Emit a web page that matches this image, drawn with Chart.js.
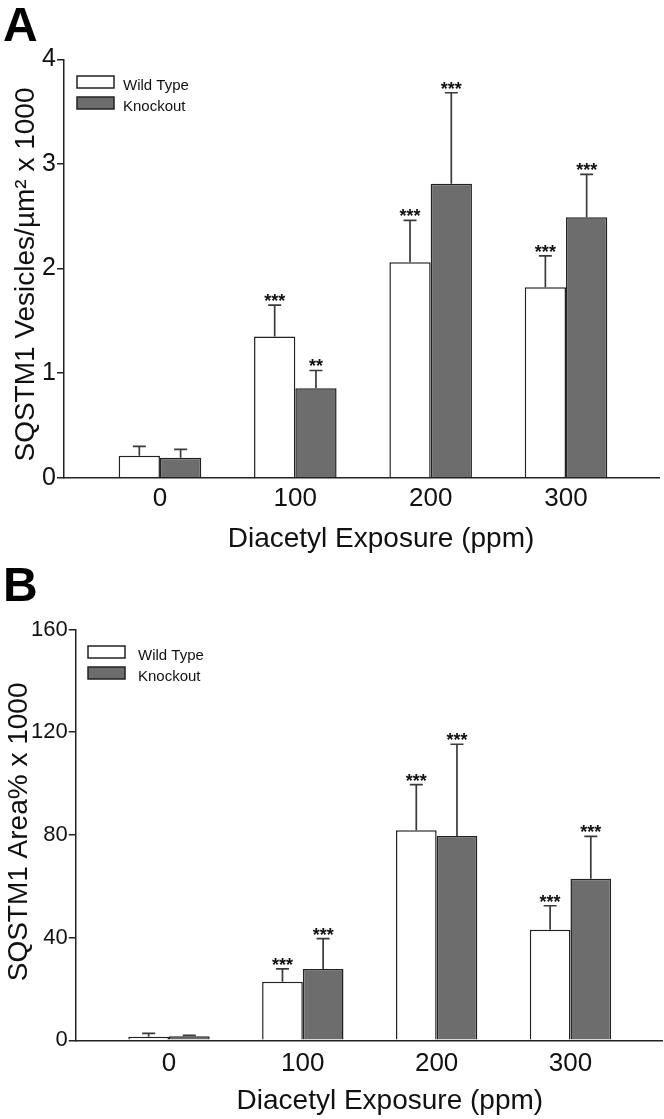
<!DOCTYPE html>
<html>
<head>
<meta charset="utf-8">
<script src="https://cdn.jsdelivr.net/npm/chart.js@4.4.1/dist/chart.umd.min.js"></script>
<style>
  html, body { margin: 0; padding: 0; background: #fff; }
  canvas { display: block; }
</style>
</head>
<body>
<canvas id="chartA" width="664" height="560"></canvas>
<canvas id="chartB" width="664" height="559"></canvas>
<script>
const doses = [0, 100, 200, 300];
const seriesNames = ['Wild Type', 'Knockout'];

// panel A - vesicles per um2 x 1000 (mean, sem)
const vesWild = [0.21, 1.35, 2.06, 1.82];
const vesWildErr = [0.09, 0.30, 0.40, 0.30];
const vesKnock = [0.19, 0.855, 2.81, 2.49];
const vesKnockErr = [0.08, 0.17, 0.87, 0.41];
const vesWildSig = ['', '***', '***', '***'];
const vesKnockSig = ['', '**', '***', '***'];
const vesTicks = [0, 1, 2, 3, 4];

// panel B - area % x 1000 (mean, sem)
const areaWild = [1.4, 22.8, 81.8, 43.1];
const areaWildErr = [1.3, 5.0, 17.8, 9.3];
const areaKnock = [1.6, 27.8, 79.6, 62.9];
const areaKnockErr = [0.3, 11.8, 35.7, 16.5];
const areaWildSig = ['', '***', '***', '***'];
const areaKnockSig = ['', '***', '***', '***'];
const areaTicks = [0, 40, 80, 120, 160];

const FONT = "'Liberation Sans', Arial, Helvetica, sans-serif";

// error bars, stars, legend, titles and panel letter
function makeExtras(cfg) {
  return {
    id: 'extras' + cfg.letter,
    afterDatasetsDraw(chart) {
      const ctx = chart.ctx;
      const yScale = chart.scales.y;
      ctx.save();
      chart.data.datasets.forEach((ds, di) => {
        const meta = chart.getDatasetMeta(di);
        meta.data.forEach((bar, i) => {
          const top = yScale.getPixelForValue(ds.data[i].y + ds.errors[i]);
          ctx.strokeStyle = '#3a3a3a';
          ctx.lineWidth = 1.7;
          ctx.beginPath();
          ctx.moveTo(bar.x, bar.y);
          ctx.lineTo(bar.x, top);
          ctx.moveTo(bar.x - 6.5, top);
          ctx.lineTo(bar.x + 6.5, top);
          ctx.stroke();
          if (ds.stars[i]) {
            ctx.fillStyle = '#111';
            ctx.font = 'bold 18px ' + FONT;
            ctx.textAlign = 'center';
            ctx.textBaseline = 'alphabetic';
            ctx.fillText(ds.stars[i], bar.x, top + 2);
          }
        });
      });
      ctx.restore();
    },
    afterDraw(chart) {
      const ctx = chart.ctx;
      const area = chart.chartArea;
      ctx.save();
      // legend
      chart.data.datasets.forEach((ds, k) => {
        const bx = area.left + cfg.legendX;
        const by = area.top + cfg.legendY + k * 21;
        ctx.fillStyle = ds.backgroundColor;
        ctx.fillRect(bx, by, 37, 12);
        ctx.strokeStyle = '#222';
        ctx.lineWidth = 1.5;
        ctx.strokeRect(bx, by, 37, 12);
        ctx.fillStyle = '#111';
        ctx.font = '15px ' + FONT;
        ctx.textAlign = 'left';
        ctx.textBaseline = 'alphabetic';
        ctx.fillText(ds.label, bx + 37 + cfg.legendText, by + 14);
      });
      // x title
      ctx.fillStyle = '#111';
      ctx.font = '28px ' + FONT;
      ctx.textAlign = 'center';
      ctx.fillText(cfg.xTitle, (area.left + area.right) / 2 + cfg.xTitleShift, area.bottom + 69);
      // y title
      ctx.save();
      ctx.translate(cfg.yTitleX, (area.top + area.bottom) / 2 + cfg.yTitleShift);
      ctx.rotate(-Math.PI / 2);
      ctx.fillText(cfg.yTitle, 0, 0);
      ctx.restore();
      // panel letter
      ctx.font = 'bold 48px ' + FONT;
      ctx.textAlign = 'left';
      ctx.fillStyle = '#000';
      ctx.fillText(cfg.letter, 3, 41);
      ctx.restore();
    }
  };
}

function makeChart(id, cfg) {
  const datasets = [
    { label: seriesNames[0], vals: cfg.wild, errors: cfg.wildErr, stars: cfg.wildSig, color: '#ffffff' },
    { label: seriesNames[1], vals: cfg.knock, errors: cfg.knockErr, stars: cfg.knockSig, color: '#6d6d6d' }
  ].map(s => ({
    label: s.label,
    data: doses.map((d, i) => ({ x: d, y: s.vals[i] })),
    errors: s.errors,
    stars: s.stars,
    backgroundColor: s.color,
    borderColor: '#222',
    borderWidth: 1.5,
    categoryPercentage: cfg.catPct,
    barPercentage: 1
  }));

  return new Chart(document.getElementById(id), {
    type: 'bar',
    data: { datasets },
    plugins: [makeExtras(cfg)],
    options: {
      responsive: false,
      animation: false,
      layout: { padding: { top: cfg.padTop, right: cfg.padRight, left: 0, bottom: 0 } },
      plugins: { legend: { display: false }, tooltip: { enabled: false } },
      scales: {
        x: {
          type: 'linear',
          offset: false,
          min: cfg.xMin,
          max: cfg.xMax,
          afterBuildTicks: (scale) => { scale.ticks = doses.map(v => ({ value: v })); },
          afterFit: (scale) => { scale.height = cfg.xHeight; },
          grid: { display: true, drawOnChartArea: false, drawTicks: false },
          border: { display: true, color: '#222', width: 1.5 },
          ticks: { padding: cfg.xTickPad, color: '#111', font: { size: 26, family: FONT } }
        },
        y: {
          min: cfg.yTicks[0],
          max: cfg.yTicks[cfg.yTicks.length - 1],
          afterBuildTicks: (scale) => { scale.ticks = cfg.yTicks.map(v => ({ value: v })); },
          afterFit: (scale) => { scale.width = cfg.yWidth; },
          grid: { drawOnChartArea: false, drawTicks: true, tickLength: 7, color: '#222', lineWidth: 1.5 },
          border: { display: true, color: '#222', width: 1.5 },
          ticks: { padding: 1, color: '#111', font: { size: cfg.yTickSize, family: FONT } }
        }
      }
    }
  });
}

makeChart('chartA', {
  letter: 'A',
  wild: vesWild, wildErr: vesWildErr, wildSig: vesWildSig,
  knock: vesKnock, knockErr: vesKnockErr, knockSig: vesKnockSig,
  yTicks: vesTicks, yTickSize: 25,
  xMin: -70.9, xMax: 368.7, catPct: 0.61,
  padTop: 59.3, padRight: 5, yWidth: 64, xHeight: 82.3, xTickPad: 6,
  legendX: 13, legendY: 16.7, legendText: 9,
  xTitle: 'Diacetyl Exposure (ppm)', xTitleShift: 19.5,
  yTitle: 'SQSTM1 Vesicles/\u00b5m\u00b2 x 1000', yTitleX: 34, yTitleShift: 6
});

makeChart('chartB', {
  letter: 'B',
  wild: areaWild, wildErr: areaWildErr, wildSig: areaWildSig,
  knock: areaKnock, knockErr: areaKnockErr, knockSig: areaKnockSig,
  yTicks: areaTicks, yTickSize: 22,
  xMin: -69.7, xMax: 368.4, catPct: 0.608,
  padTop: 69.5, padRight: 2, yWidth: 75.7, xHeight: 78.7, xTickPad: 8,
  legendX: 12.3, legendY: 16.5, legendText: 13,
  xTitle: 'Diacetyl Exposure (ppm)', xTitleShift: 21,
  yTitle: 'SQSTM1 Area% x 1000', yTitleX: 27, yTitleShift: -3
});
</script>
</body>
</html>
